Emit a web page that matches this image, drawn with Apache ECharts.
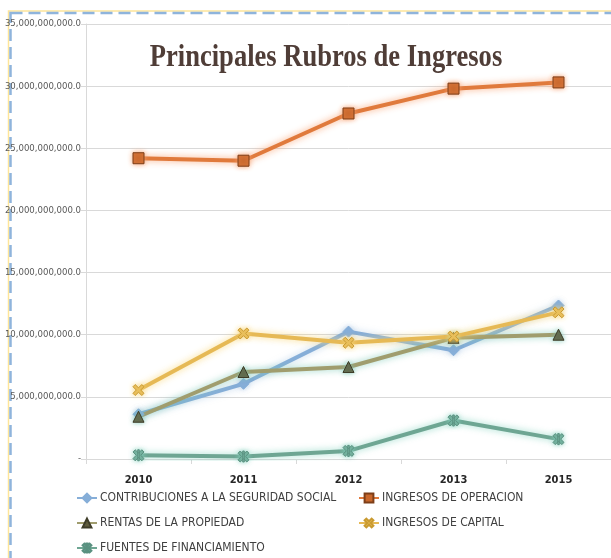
<!DOCTYPE html>
<html>
<head>
<meta charset="utf-8">
<script src="https://cdn.jsdelivr.net/npm/echarts@6/dist/echarts.min.js"></script>
<style>
  html, body { margin: 0; padding: 0; background: #fff; }
  #chart { width: 611px; height: 558px; }
</style>
</head>
<body>
<div id="chart"></div>
<script>
// datos
const years = ['2010', '2011', '2012', '2013', '2015']
const contribuciones = [3.6e9, 6.05e9, 10.25e9, 8.75e9, 12.35e9]
const operacion = [24.2e9, 24.0e9, 27.8e9, 29.8e9, 30.3e9]
const rentas = [3.4e9, 7.0e9, 7.4e9, 9.75e9, 10.0e9]
const capital = [5.55e9, 10.1e9, 9.35e9, 9.85e9, 11.8e9]
const fuentes = [0.3e9, 0.2e9, 0.65e9, 3.1e9, 1.6e9]

const names = [
  'CONTRIBUCIONES A LA SEGURIDAD SOCIAL',
  'INGRESOS DE OPERACION',
  'RENTAS DE LA PROPIEDAD',
  'INGRESOS DE CAPITAL',
  'FUENTES DE FINANCIAMIENTO'
]

const narrow = "'Liberation Sans Narrow', 'DejaVu Sans Condensed', sans-serif"
const xShape = 'path://M2,0 L5,3 L8,0 L10,2 L7,5 L10,8 L8,10 L5,7 L2,10 L0,8 L3,5 L0,2 Z'
const starShape = 'path://M2,0 L5,3 L8,0 L10,2 L7,5 L10,8 L8,10 L5,7 L2,10 L0,8 L3,5 L0,2 Z M4.3,0 L5.7,0 L5.7,10 L4.3,10 Z'

function fmt(v) {
  if (v === 0) return '-'
  return v.toLocaleString('en-US') + '.0'
}

function serie(name, data, color, glow, symbol, markColor, markBorder) {
  return {
    name: name,
    type: 'line',
    data: data,
    symbol: symbol,
    symbolSize: 11,
    lineStyle: { color: color, width: 4, shadowColor: glow, shadowBlur: 7 },
    itemStyle: { color: markColor, borderColor: markBorder, borderWidth: 1, shadowColor: glow, shadowBlur: 5 },
    emphasis: { disabled: true }
  }
}

const legendText = { color: '#404040', fontSize: 12, fontFamily: narrow, padding: [0, 0, 0, -2] }

const chart = echarts.init(document.getElementById('chart'))
chart.setOption({
  animation: false,
  backgroundColor: '#fff',
  grid: { left: 86, top: 24, width: 535, height: 435 },
  xAxis: {
    type: 'category',
    data: years,
    axisLine: { lineStyle: { color: '#d9d9d9', width: 1 } },
    axisTick: { show: true, length: 5, lineStyle: { color: '#d9d9d9' } },
    axisLabel: { color: '#262626', fontWeight: 'bold', fontSize: 11, fontFamily: narrow, margin: 16 }
  },
  yAxis: {
    type: 'value',
    min: 0,
    max: 35e9,
    interval: 5e9,
    axisLine: { show: true, lineStyle: { color: '#d9d9d9' } },
    axisTick: { show: true, length: 5, lineStyle: { color: '#d9d9d9' } },
    splitLine: { lineStyle: { color: '#d9d9d9' } },
    axisLabel: { color: '#595959', fontSize: 9.5, fontFamily: narrow, margin: 5, formatter: fmt }
  },
  legend: [
    {
      data: [names[0], names[2], names[4]],
      orient: 'vertical',
      left: 76, top: 492, height: 66, padding: 0,
      itemGap: 13, itemWidth: 20, itemHeight: 11,
      textStyle: legendText
    },
    {
      data: [names[1], names[3]],
      orient: 'vertical',
      left: 358, top: 492, height: 66, padding: 0,
      itemGap: 13, itemWidth: 20, itemHeight: 11,
      textStyle: legendText
    }
  ],
  graphic: [
    { type: 'rect', shape: { x: 8.5, y: 11, width: 700, height: 700 }, silent: true,
      style: { fill: null, stroke: '#fde59a', lineWidth: 1.5 } },
    { type: 'rect', shape: { x: 10.5, y: 13, width: 700, height: 700 }, silent: true,
      style: { fill: null, stroke: '#8fb4dc', lineWidth: 2.5, lineDash: [12, 6] } },
    { type: 'text', silent: true, z: 10,
      x: 326, y: 58, scaleX: 0.83,
      style: { text: 'Principales Rubros de Ingresos', fill: '#4f3d37',
               font: "bold 32px 'Liberation Serif', serif", x: 0, y: 0, align: 'center', verticalAlign: 'middle' } }
  ],
  series: [
    serie(names[0], contribuciones, '#86aed8', 'rgba(140,180,220,0.5)', 'diamond', '#86aed8', '#86aed8'),
    serie(names[1], operacion, '#e07a3c', 'rgba(250,160,110,0.9)', 'rect', '#c9672b', '#7d3e18'),
    serie(names[2], rentas, '#a09d6e', 'rgba(120,200,180,0.8)', 'triangle', '#5e5b3d', '#3e3c28'),
    serie(names[3], capital, '#e6b955', 'rgba(250,215,120,0.9)', xShape, '#e6b955', '#c99a30'),
    serie(names[4], fuentes, '#6ea693', 'rgba(130,210,190,0.8)', starShape, '#6ea693', '#5a9180')
  ]
})
</script>
</body>
</html>
